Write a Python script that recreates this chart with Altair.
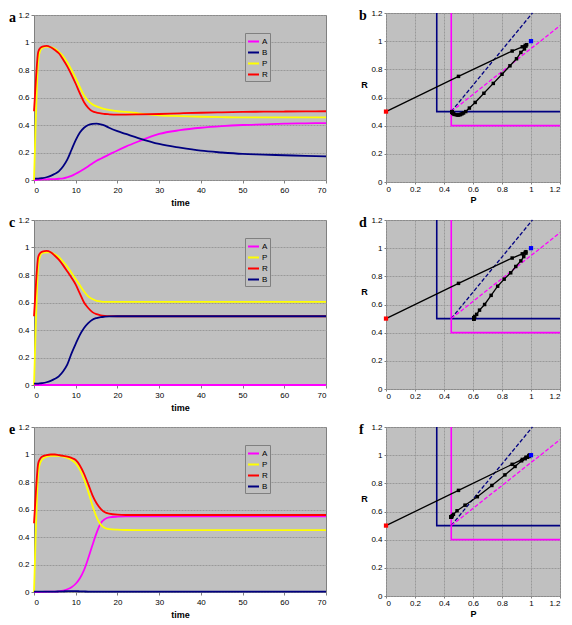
import altair as alt
import pandas as pd

# ---------------- data ----------------
t = [0, 0.5, 1, 1.5, 2, 3, 4, 5, 6, 7, 8, 9, 10, 11, 12, 13, 14, 15, 16, 17, 18,
     20, 22, 25, 30, 35, 40, 45, 50, 55, 60, 65, 70]

# panel a
A_a = [0, 0, 0.002, 0.003, 0.004, 0.005, 0.006, 0.007, 0.009, 0.012, 0.02, 0.03, 0.045, 0.062, 0.08, 0.10,
       0.12, 0.14, 0.155, 0.17, 0.185, 0.215, 0.243, 0.28, 0.335, 0.362, 0.38, 0.392, 0.40, 0.405, 0.41, 0.412, 0.414]
B_a = [0.01, 0.01, 0.01, 0.012, 0.014, 0.02, 0.03, 0.045, 0.065, 0.10, 0.15, 0.22, 0.29, 0.345, 0.38, 0.40,
       0.408, 0.41, 0.405, 0.395, 0.38, 0.355, 0.335, 0.305, 0.262, 0.235, 0.213, 0.2, 0.19, 0.185, 0.18, 0.176, 0.172]
P_a = [0, 0.50, 0.87, 0.94, 0.96, 0.97, 0.965, 0.955, 0.93, 0.90, 0.855, 0.80, 0.74, 0.675, 0.615, 0.575,
       0.55, 0.535, 0.525, 0.515, 0.51, 0.50, 0.495, 0.485, 0.47, 0.465, 0.46, 0.457, 0.455, 0.455, 0.455, 0.455, 0.455]
R_a = [0.5, 0.75, 0.93, 0.96, 0.97, 0.975, 0.965, 0.945, 0.92, 0.875, 0.825, 0.765, 0.70, 0.63, 0.565, 0.525,
       0.50, 0.49, 0.485, 0.48, 0.478, 0.476, 0.476, 0.477, 0.48, 0.485, 0.489, 0.492, 0.495, 0.497, 0.498, 0.499, 0.50]

# panel c
A_c = [0] * 33
P_c = [0, 0.50, 0.87, 0.94, 0.96, 0.965, 0.965, 0.95, 0.93, 0.895, 0.86, 0.815, 0.77, 0.725, 0.68, 0.645,
       0.625, 0.612, 0.607, 0.605, 0.605, 0.605, 0.605, 0.605, 0.605, 0.605, 0.605, 0.605, 0.605, 0.605, 0.605, 0.605, 0.605]
R_c = [0.5, 0.75, 0.93, 0.96, 0.97, 0.975, 0.965, 0.94, 0.91, 0.87, 0.825, 0.78, 0.73, 0.665, 0.60, 0.56,
       0.53, 0.515, 0.507, 0.503, 0.501, 0.5, 0.5, 0.5, 0.5, 0.5, 0.5, 0.5, 0.5, 0.5, 0.5, 0.5, 0.5]
B_c = [0.01, 0.01, 0.01, 0.012, 0.014, 0.02, 0.03, 0.045, 0.065, 0.10, 0.15, 0.23, 0.30, 0.365, 0.415, 0.45,
       0.475, 0.487, 0.494, 0.497, 0.499, 0.5, 0.5, 0.5, 0.5, 0.5, 0.5, 0.5, 0.5, 0.5, 0.5, 0.5, 0.5]

# panel e
A_e = [0, 0, 0, 0, 0.001, 0.002, 0.003, 0.003, 0.005, 0.01, 0.02, 0.035, 0.06, 0.10, 0.16, 0.245,
       0.34, 0.43, 0.50, 0.53, 0.542, 0.548, 0.55, 0.55, 0.55, 0.55, 0.55, 0.55, 0.55, 0.55, 0.55, 0.55, 0.55]
P_e = [0, 0.50, 0.87, 0.94, 0.965, 0.985, 0.99, 0.99, 0.99, 0.985, 0.975, 0.96, 0.935, 0.89, 0.82, 0.73,
       0.63, 0.545, 0.49, 0.465, 0.457, 0.453, 0.451, 0.45, 0.45, 0.45, 0.45, 0.45, 0.45, 0.45, 0.45, 0.45, 0.45]
R_e = [0.5, 0.75, 0.935, 0.97, 0.985, 0.995, 1.0, 1.0, 0.995, 0.99, 0.985, 0.975, 0.96, 0.92, 0.86, 0.785,
       0.705, 0.645, 0.605, 0.58, 0.57, 0.562, 0.56, 0.56, 0.56, 0.56, 0.56, 0.56, 0.56, 0.56, 0.56, 0.56, 0.56]
B_e = [0.003, 0.003, 0.003, 0.003, 0.003, 0.003, 0.003, 0.003, 0.004, 0.005, 0.006, 0.006, 0.006, 0.005, 0.004, 0.003,
       0.003, 0.003, 0.003, 0.003, 0.003, 0.003, 0.003, 0.003, 0.003, 0.003, 0.003, 0.003, 0.003, 0.003, 0.003, 0.003, 0.003]

# phase-plane guide lines (same in b, d, f)
B_null_P = [0.35, 0.35, 1.2]
B_null_R = [1.2, 0.5, 0.5]
A_null_P = [0.45, 0.45, 1.2]
A_null_R = [1.2, 0.4, 0.4]
B_dash_P = [0.45, 1.01]
B_dash_R = [0.5, 1.2]
A_dash_P = [0.45, 1.2]
A_dash_R = [0.5, 1.11]
target_P = [1.0]
target_R = [1.0]

COLORS = {"A": "#FF00FF", "B": "#000080", "P": "#FFFF00", "R": "#FF0000"}
FONT = "Liberation Sans"

W1, H1 = 292, 165
W2, H2 = 174, 169
unit_ticks = [0, 0.2, 0.4, 0.6, 0.8, 1, 1.2]


def letter_layer(letter, x):
    return alt.Chart(pd.DataFrame({"lab": [letter]})).mark_text(
        font="Liberation Serif", fontSize=14, fontWeight="bold", align="left", baseline="middle", color="black"
    ).encode(text="lab:N", x=alt.value(x), y=alt.value(3))


def time_panel(series, order, letter):
    df = pd.DataFrame({"time": t, **series}).melt("time", var_name="series", value_name="value")
    color = alt.Color(
        "series:N",
        scale=alt.Scale(domain=order, range=[COLORS[s] for s in order]),
        legend=alt.Legend(
            orient="none", legendX=211, legendY=18, title=None, symbolType="stroke",
            symbolStrokeWidth=2, symbolSize=121, labelFontSize=8, labelFont=FONT, labelColor="black",
            fillColor="#C0C0C0", strokeColor="#808080", padding=2, rowPadding=0, labelOffset=2,
        ),
    )
    x = alt.X("time:Q", scale=alt.Scale(domain=[0, 70], nice=False),
              axis=alt.Axis(values=list(range(0, 71, 10)), grid=False, title="time",
                            tickSize=3, labelPadding=3, titlePadding=4))
    y = alt.Y("value:Q", scale=alt.Scale(domain=[0, 1.2], nice=False),
              axis=alt.Axis(values=unit_ticks, format="~g", title=None, tickSize=3, labelPadding=2))
    base = alt.Chart(df)
    layers = [
        base.transform_filter(alt.datum.series == s)
        .mark_line(strokeWidth=1.8, interpolate="monotone")
        .encode(x=x, y=y, color=color)
        for s in order
    ]
    return alt.layer(*layers, letter_layer(letter, -25)).properties(width=W1, height=H1)


def phase_panel(P, R, letter, show_p):
    traj = pd.DataFrame({"t": t, "P": P, "R": R})
    start = traj.iloc[[0]]
    x = alt.X("P:Q", scale=alt.Scale(domain=[0, 1.2], nice=False),
              axis=alt.Axis(values=unit_ticks, format="~g", title="P" if show_p else None,
                            tickSize=2, labelPadding=1, titlePadding=2))
    y = alt.Y("R:Q", scale=alt.Scale(domain=[0, 1.2], nice=False),
              axis=alt.Axis(values=unit_ticks, format="~g", title="R", titleAngle=0,
                            titleX=-22, titleY=71, titleAlign="center", titleBaseline="middle",
                            tickSize=2, labelPadding=2))

    def guide(Pv, Rv, col, dash=None, width=1.6):
        d = pd.DataFrame({"k": list(range(len(Pv))), "P": Pv, "R": Rv})
        kw = dict(color=col, strokeWidth=width)
        if dash:
            kw["strokeDash"] = dash
        return alt.Chart(d).mark_line(**kw).encode(x=x, y=y, order="k:Q")

    layers = [
        guide(B_null_P, B_null_R, "#000080"),
        guide(A_null_P, A_null_R, "#FF00FF"),
        guide(B_dash_P, B_dash_R, "#000080", [4, 2], 1.3),
        guide(A_dash_P, A_dash_R, "#FF00FF", [4, 2], 1.3),
        alt.Chart(traj).mark_line(color="black", strokeWidth=1.3).encode(x=x, y=y, order="t:Q"),
        alt.Chart(traj.iloc[1:]).mark_square(color="black", size=12, opacity=1).encode(x=x, y=y),
        alt.Chart(start).mark_square(color="#FF0000", size=18, opacity=1).encode(x=x, y=y),
        alt.Chart(pd.DataFrame({"P": target_P, "R": target_R})).mark_square(color="#0000FF", size=18, opacity=1).encode(x=x, y=y),
        letter_layer(letter, -27),
    ]
    return alt.layer(*layers).properties(width=W2, height=H2)


a = time_panel({"A": A_a, "B": B_a, "P": P_a, "R": R_a}, ["A", "B", "P", "R"], "a")
b = phase_panel(P_a, R_a, "b", True)
c = time_panel({"A": A_c, "P": P_c, "R": R_c, "B": B_c}, ["A", "P", "R", "B"], "c")
d = phase_panel(P_c, R_c, "d", False)
e = time_panel({"A": A_e, "P": P_e, "R": R_e, "B": B_e}, ["A", "P", "R", "B"], "e")
f = phase_panel(P_e, R_e, "f", True)

chart = (
    alt.concat(a, b, c, d, e, f, columns=2, spacing={"row": 38, "column": 60},
               bounds="flush", align="each", center=True)
    .resolve_scale(x="independent", y="independent", color="independent")
    .resolve_legend(color="independent")
    .properties(padding=0)
    .configure_view(fill="#C0C0C0", stroke="#808080", strokeWidth=1)
    .configure_axis(labelFont=FONT, labelFontSize=8, labelColor="black", titleFont=FONT,
                    titleFontSize=9, titleFontWeight="bold", titleColor="black", domain=False,
                    tickColor="#808080", gridColor="#999999", gridDash=[2, 1], gridWidth=1)
)

chart.save("out.html", embed_options={"renderer": "svg", "actions": False})
